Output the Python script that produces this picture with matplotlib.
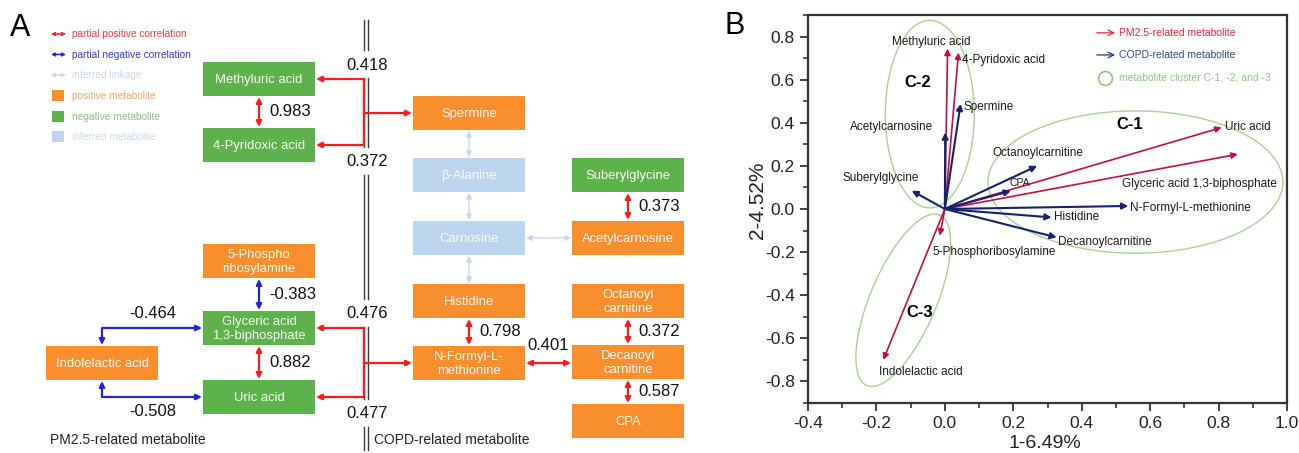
import numpy as np
import matplotlib
matplotlib.use('Agg')
from matplotlib import pyplot as plt
from matplotlib.patches import Rectangle, Ellipse

plt.rcParams['font.family'] = ['Liberation Sans', 'DejaVu Sans']
plt.rcParams['axes.unicode_minus'] = False

# # # # #
# PANEL A DATA (partial correlation network)

node_keys = ['methyluric', 'pyridoxic', 'phospho', 'glyceric', 'uric', 'indolelactic',
             'spermine', 'alanine', 'carnosine', 'histidine', 'formyl',
             'suberyl', 'acetylcarnosine', 'octanoyl', 'decanoyl', 'cpa']
node_labels = ['Methyluric acid', '4-Pyridoxic acid', '5-Phospho\nribosylamine',
               'Glyceric acid\n1,3-biphosphate', 'Uric acid', 'Indolelactic acid',
               'Spermine', 'β-Alanine', 'Carnosine', 'Histidine', 'N-Formyl-L-\nmethionine',
               'Suberylglycine', 'Acetylcarnosine', 'Octanoyl\ncarnitine', 'Decanoyl\ncarnitine', 'CPA']
node_kind = ['negative', 'negative', 'positive', 'negative', 'negative', 'positive',
             'positive', 'inferred', 'inferred', 'positive', 'positive',
             'negative', 'positive', 'positive', 'positive', 'positive']

# pairwise partial correlations (None = inferred linkage)
edge_a = ['methyluric', 'phospho', 'glyceric', 'spermine', 'alanine', 'carnosine',
          'carnosine', 'suberyl', 'histidine', 'octanoyl', 'decanoyl', 'formyl']
edge_b = ['pyridoxic', 'glyceric', 'uric', 'alanine', 'carnosine', 'histidine',
          'acetylcarnosine', 'acetylcarnosine', 'formyl', 'decanoyl', 'cpa', 'decanoyl']
edge_r = [0.983, -0.383, 0.882, None, None, None, None, 0.373, 0.798, 0.372, 0.587, 0.401]

# Indolelactic acid elbow links
elbow_from = ['glyceric', 'uric']
elbow_r = [-0.464, -0.508]

# PM2.5 pair -> COPD metabolite brackets
bracket_top = ['methyluric', 'glyceric']
bracket_bottom = ['pyridoxic', 'uric']
bracket_target = ['spermine', 'formyl']
bracket_r_top = [0.418, 0.476]
bracket_r_bottom = [0.372, 0.477]

# # # # #
# PANEL B DATA (PCA loadings)

pm25_names = ['Methyluric acid', '4-Pyridoxic acid', 'Uric acid',
              'Glyceric acid 1,3-biphosphate', '5-Phosphoribosylamine', 'Indolelactic acid']
pm25_pc1 = [0.008, 0.040, 0.809, 0.856, -0.015, -0.180]
pm25_pc2 = [0.744, 0.726, 0.378, 0.254, -0.124, -0.700]

copd_names = ['Spermine', 'Acetylcarnosine', 'Suberylglycine', 'Octanoylcarnitine',
              'CPA', 'N-Formyl-L-methionine', 'Histidine', 'Decanoylcarnitine']
copd_pc1 = [0.046, 0.001, -0.097, 0.270, 0.193, 0.536, 0.312, 0.327]
copd_pc2 = [0.488, 0.355, 0.085, 0.200, 0.084, 0.014, -0.039, -0.132]

x_ticks = [-0.4, -0.2, 0.0, 0.2, 0.4, 0.6, 0.8, 1.0]
y_ticks = [-0.8, -0.6, -0.4, -0.2, 0.0, 0.2, 0.4, 0.6, 0.8]

# # # # #
# STYLE / LAYOUT

KIND_COL = {'positive': '#f98e2c', 'negative': '#5db24b', 'inferred': '#bcd5ee'}
RED = '#ff1a1a'
BLUE = '#2424d8'
LIGHT = '#c3d7ef'
PM_COL = '#c0103f'
COPD_COL = '#14236b'
CLUSTER_COL = '#a6d28f'

BW, BH = 112, 34
# top-left corner of each box, pixels
BOX = {'methyluric': (203, 62), 'pyridoxic': (203, 128), 'phospho': (203, 244),
       'glyceric': (203, 311), 'uric': (203, 380), 'indolelactic': (46, 346),
       'spermine': (413, 96), 'alanine': (413, 158), 'carnosine': (413, 221),
       'histidine': (413, 284), 'formyl': (413, 346),
       'suberyl': (572, 158), 'acetylcarnosine': (572, 221), 'octanoyl': (572, 284),
       'decanoyl': (572, 345), 'cpa': (572, 404)}
SEP_X = 364


def centre(k):
	x0, y0 = BOX[k]
	return x0 + BW / 2.0, y0 + BH / 2.0


def arrowhead(ax, tip, frm, col, lw=1.6):
	ax.annotate('', xy=tip, xytext=frm,
				arrowprops=dict(arrowstyle='-|>', color=col, lw=lw, mutation_scale=8,
								shrinkA=0, shrinkB=0))


def double_arrow(ax, p, q, col, lw=1.6, style='<|-|>', ms=8):
	ax.annotate('', xy=q, xytext=p,
				arrowprops=dict(arrowstyle=style, color=col, lw=lw, mutation_scale=ms,
								shrinkA=0, shrinkB=0))


fig = plt.figure(figsize=(12.99, 4.53), dpi=100)

# # # # #
# PANEL A

axa = fig.add_axes([0, 0, 720 / 1299.0, 1])
axa.set_xlim(0, 720)
axa.set_ylim(453, 0)
axa.set_axis_off()

for k, lab, kind in zip(node_keys, node_labels, node_kind):
	x0, y0 = BOX[k]
	axa.add_patch(Rectangle((x0, y0), BW, BH, facecolor=KIND_COL[kind], edgecolor='none'))
	cx, cy = centre(k)
	axa.text(cx, cy + 1, lab, ha='center', va='center', color='#fbfbfb', fontsize=9.4,
			 linespacing=1.3)

# straight links between neighbouring boxes
for a, b, r in zip(edge_a, edge_b, edge_r):
	ax0, ay0 = centre(a)
	bx0, by0 = centre(b)
	if r is None:
		col, lw = LIGHT, 1.0
	else:
		col, lw = (RED if r > 0 else BLUE), 1.6
	if abs(ax0 - bx0) < 1:
		top, bot = (a, b) if ay0 < by0 else (b, a)
		p = (ax0, BOX[top][1] + BH + 1)
		q = (ax0, BOX[bot][1] - 1)
		double_arrow(axa, p, q, col, lw)
		if r is not None:
			axa.text(ax0 + 10, (p[1] + q[1]) / 2.0, '%.3f' % r, ha='left', va='center',
					 fontsize=12, color='#111111')
	else:
		lft, rgt = (a, b) if ax0 < bx0 else (b, a)
		p = (BOX[lft][0] + BW + 1, ay0)
		q = (BOX[rgt][0] - 1, ay0)
		double_arrow(axa, p, q, col, lw)
		if r is not None:
			axa.text((p[0] + q[0]) / 2.0, ay0 - 17, '%.3f' % r, ha='center', va='center',
					 fontsize=12, color='#111111')

# elbow links to Indolelactic acid
ix, iy = centre('indolelactic')
for k, r in zip(elbow_from, elbow_r):
	kx, ky = centre(k)
	xl = BOX[k][0] - 1
	yend = BOX['indolelactic'][1] - 1 if ky < iy else BOX['indolelactic'][1] + BH + 1
	axa.plot([xl - 6, ix, ix], [ky, ky, yend + (-6 if ky < iy else 6)], color=BLUE, lw=1.6,
			 solid_capstyle='butt')
	arrowhead(axa, (xl, ky), (xl - 8, ky), BLUE)
	arrowhead(axa, (ix, yend), (ix, yend + (-8 if ky < iy else 8)), BLUE)
	ly = ky - 14 if ky < iy else ky + 14
	axa.text((ix + xl) / 2.0 + 1, ly, '%.3f' % r, ha='center', va='center', fontsize=12,
			 color='#111111')

# brackets from PM2.5 pairs to COPD metabolites
label_y = []
for t, b, g, rt, rb in zip(bracket_top, bracket_bottom, bracket_target,
						   bracket_r_top, bracket_r_bottom):
	tx, ty = centre(t)
	bx, by = centre(b)
	gx, gy = centre(g)
	xr = BOX[t][0] + BW + 1
	axa.plot([xr + 6, SEP_X, SEP_X, xr + 6], [ty, ty, by, by], color=RED, lw=1.6,
			 solid_joinstyle='miter')
	arrowhead(axa, (xr, ty), (xr + 8, ty), RED)
	arrowhead(axa, (xr, by), (xr + 8, by), RED)
	xt = BOX[g][0] - 1
	axa.plot([SEP_X, xt - 6], [gy, gy], color=RED, lw=1.6)
	arrowhead(axa, (xt, gy), (xt - 8, gy), RED)
	axa.text(SEP_X + 3, ty - 14, '%.3f' % rt, ha='center', va='center', fontsize=12,
			 color='#111111')
	axa.text(SEP_X + 3, by + 17, '%.3f' % rb, ha='center', va='center', fontsize=12,
			 color='#111111')
	label_y += [ty - 14, by + 17]

# double separator line, broken around the numbers
edges = [20] + sum([[y - 15, y + 13] for y in sorted(label_y)], []) + [450]
for i in range(0, len(edges), 2):
	for dx in (-0.5, 3.5):
		axa.plot([SEP_X + dx, SEP_X + dx], [edges[i], edges[i + 1]], color='#3a3a3a',
				 lw=1.0, zorder=0)

axa.text(50, 440, 'PM2.5-related metabolite', ha='left', va='center', fontsize=10,
		 color='#222222')
axa.text(374, 440, 'COPD-related metabolite', ha='left', va='center', fontsize=10,
		 color='#222222')

# legend
leg_arrows = [('partial positive correlation', RED, '#ff3b3b'),
			  ('partial negative correlation', BLUE, '#3a3ad0'),
			  ('inferred linkage', LIGHT, '#c9d9ee')]
for i, (txt, col, tcol) in enumerate(leg_arrows):
	y = 34 + 20.5 * i
	double_arrow(axa, (51, y), (66, y), col, lw=1.1, style='<->', ms=5)
	axa.text(72, y, txt, ha='left', va='center', fontsize=7.3, color=tcol)
leg_boxes = [('positive metabolite', 'positive', '#f8a466'),
			 ('negative metabolite', 'negative', '#86c478'),
			 ('inferred metabolite', 'inferred', '#c9d9ee')]
for i, (txt, kind, tcol) in enumerate(leg_boxes):
	y = 96 + 20.5 * i
	axa.add_patch(Rectangle((52, y - 6), 12, 11, facecolor=KIND_COL[kind], edgecolor='none'))
	axa.text(72, y, txt, ha='left', va='center', fontsize=7.3, color=tcol)

axa.text(10, 28, 'A', ha='left', va='center', fontsize=22, color='black')

# # # # #
# PANEL B

axb = fig.add_axes([808 / 1299.0, 1 - 403 / 453.0, 479 / 1299.0, 388 / 453.0])
axb.set_xlim(-0.4, 1.0)
axb.set_ylim(-0.9, 0.9)

# clusters
axb.add_patch(Ellipse((0.557, 0.125), 0.862, 0.66, facecolor='none', edgecolor=CLUSTER_COL,
					  lw=1.0))
axb.add_patch(Ellipse((-0.044, 0.44), 0.26, 0.87, facecolor='none', edgecolor=CLUSTER_COL,
					  lw=1.0))
t = np.linspace(0, 2 * np.pi, 200)
c3x = -0.1215 + 0.1065 * np.cos(t) + 0.0886 * np.sin(t)
c3y = -0.4235 + 0.3955 * np.cos(t) - 0.061 * np.sin(t)
axb.plot(c3x, c3y, color=CLUSTER_COL, lw=1.0)

for x, y in zip(pm25_pc1, pm25_pc2):
	axb.annotate('', xy=(x, y), xytext=(0, 0),
				 arrowprops=dict(arrowstyle='-|>', color=PM_COL, lw=1.2, mutation_scale=9,
								 shrinkA=0, shrinkB=0))
for x, y in zip(copd_pc1, copd_pc2):
	axb.annotate('', xy=(x, y), xytext=(0, 0),
				 arrowprops=dict(arrowstyle='-|>', color=COPD_COL, lw=1.5, mutation_scale=9,
								 shrinkA=0, shrinkB=0))

# label placement (x, y, ha)
LABEL_POS = {'Methyluric acid': (-0.04, 0.777, 'center'),
			 '4-Pyridoxic acid': (0.05, 0.693, 'left'),
			 'Uric acid': (0.82, 0.38, 'left'),
			 'Glyceric acid 1,3-biphosphate': (0.743, 0.116, 'center'),
			 '5-Phosphoribosylamine': (-0.035, -0.2, 'left'),
			 'Indolelactic acid': (-0.07, -0.758, 'center'),
			 'Spermine': (0.055, 0.474, 'left'),
			 'Acetylcarnosine': (-0.155, 0.38, 'center'),
			 'Suberylglycine': (-0.187, 0.144, 'center'),
			 'Octanoylcarnitine': (0.14, 0.26, 'left'),
			 'CPA': (0.19, 0.121, 'left'),
			 'N-Formyl-L-methionine': (0.54, 0.005, 'left'),
			 'Histidine': (0.32, -0.037, 'left'),
			 'Decanoylcarnitine': (0.33, -0.153, 'left')}
for name in pm25_names + copd_names:
	x, y, ha = LABEL_POS[name]
	axb.text(x, y, name, ha=ha, va='center', fontsize=8.5 if name != 'CPA' else 7.5,
			 color='#1a1a1a')

axb.text(-0.08, 0.586, 'C-2', ha='center', va='center', fontsize=12, fontweight='bold')
axb.text(0.54, 0.39, 'C-1', ha='center', va='center', fontsize=12, fontweight='bold')
axb.text(-0.073, -0.48, 'C-3', ha='center', va='center', fontsize=12, fontweight='bold')

# legend
axb.annotate('', xy=(0.641, 0.954), xytext=(0.603, 0.954), xycoords='axes fraction',
			 arrowprops=dict(arrowstyle='->', color='#e8283c', lw=0.9, shrinkA=0, shrinkB=0))
axb.text(0.649, 0.954, 'PM2.5-related metabolite', transform=axb.transAxes, ha='left',
		 va='center', fontsize=7.5, color='#e8283c')
axb.annotate('', xy=(0.641, 0.897), xytext=(0.603, 0.897), xycoords='axes fraction',
			 arrowprops=dict(arrowstyle='->', color='#1f3a7a', lw=0.9, shrinkA=0, shrinkB=0))
axb.text(0.649, 0.897, 'COPD-related metabolite', transform=axb.transAxes, ha='left',
		 va='center', fontsize=7.5, color='#2a4a8a')
axb.plot([0.621], [0.838], 'o', transform=axb.transAxes, markersize=10, markerfacecolor='none',
		 markeredgecolor='#8cc87a', markeredgewidth=1.2)
axb.text(0.649, 0.838, 'metabolite cluster C-1, -2, and -3', transform=axb.transAxes,
		 ha='left', va='center', fontsize=7.5, color='#8cc87a')

axb.set_xticks(x_ticks)
axb.set_yticks(y_ticks)
axb.set_xticks(np.arange(-0.3, 1.0, 0.2), minor=True)
axb.set_yticks(np.arange(-0.9, 0.91, 0.2), minor=True)
axb.set_xticklabels(['%.1f' % v for v in x_ticks])
axb.set_yticklabels(['%.1f' % v for v in y_ticks])
axb.tick_params(which='major', direction='out', length=6, width=1.3, labelsize=12.5,
				colors='#333333', labelcolor='#222222')
axb.tick_params(which='minor', direction='out', length=3.5, width=1.2, colors='#333333')
axb.tick_params(top=False, right=False, which='both')
for sp in axb.spines.values():
	sp.set_linewidth(1.6)
	sp.set_color('#333333')

fig.text(1045 / 1299.0, 1 - 443 / 453.0, '1-6.49%', ha='center', va='center', fontsize=14,
		 color='#222222')
fig.text(757 / 1299.0, 1 - 200 / 453.0, '2-4.52%', ha='center', va='center', fontsize=15,
		 rotation=90, color='#222222')
fig.text(735 / 1299.0, 1 - 26 / 453.0, 'B', ha='center', va='center', fontsize=22)

fig.savefig('out.png', dpi=100)
